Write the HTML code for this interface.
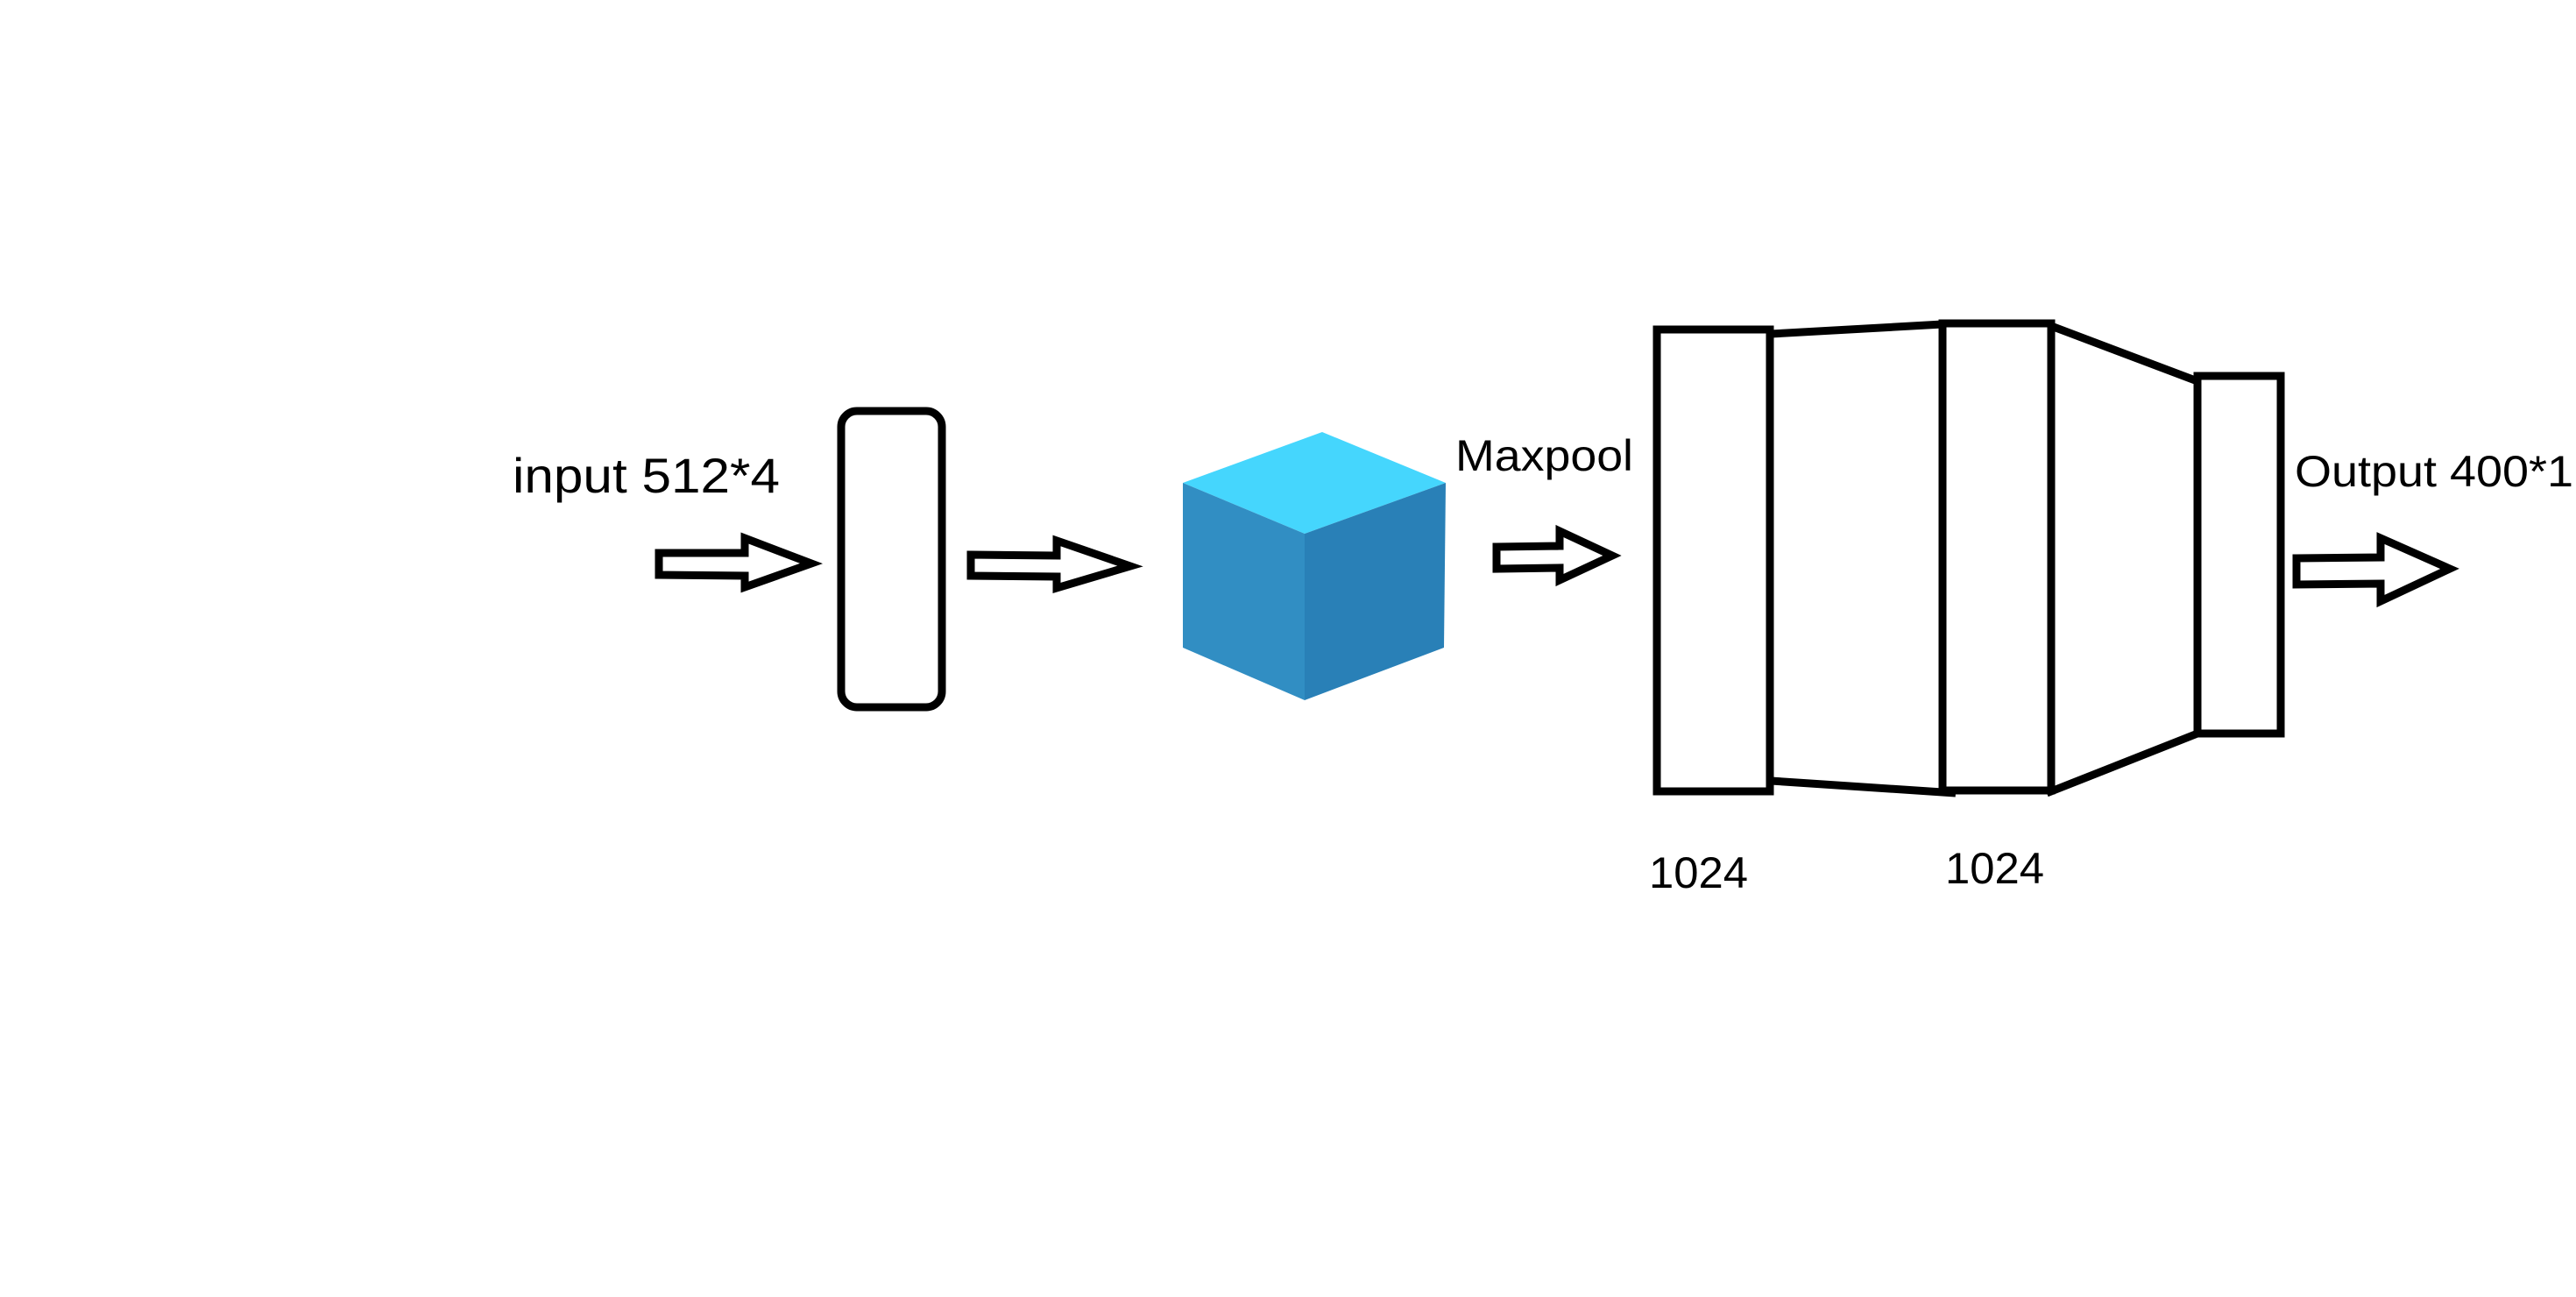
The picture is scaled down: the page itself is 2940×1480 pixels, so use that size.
<!DOCTYPE html>
<html><head><meta charset="utf-8"><style>
html,body{margin:0;padding:0;background:#fff;}
svg{display:block;}
text{font-family:"Liberation Sans",sans-serif;fill:#000;}
</style></head><body>
<svg width="2940" height="1480" viewBox="0 0 2940 1480" xmlns="http://www.w3.org/2000/svg">
<rect width="2940" height="1480" fill="#fff"/>
<text x="585" y="562" font-size="56" textLength="305" lengthAdjust="spacingAndGlyphs">input 512*4</text>
<text x="1661" y="537" font-size="50" textLength="203" lengthAdjust="spacingAndGlyphs">Maxpool</text>
<text x="1882" y="1013" font-size="50" textLength="113" lengthAdjust="spacingAndGlyphs">1024</text>
<text x="2220" y="1008" font-size="50" textLength="113" lengthAdjust="spacingAndGlyphs">1024</text>
<text x="2619" y="555" font-size="50" textLength="318" lengthAdjust="spacingAndGlyphs">Output 400*1</text>

<g fill="#fff" stroke="#000" stroke-width="9" stroke-linejoin="miter">
<polygon points="752,631 850,631 850,614 926,643 850,670 850,657 752,656"/>
<polygon points="1108,633 1206,634 1206,617 1290,646 1206,671 1206,658 1108,657"/>
<polygon points="1708,624 1780,623 1780,606 1840,634 1780,662 1780,648 1708,649"/>
<polygon points="2621,637 2717,636 2717,614 2796,649 2717,686 2717,666 2621,667"/>
</g>

<rect x="960" y="469" width="115" height="338" rx="18" fill="#fff" stroke="#000" stroke-width="9"/>

<polygon points="1509,493 1650,551 1489,609 1350,551" fill="#45D6FD"/>
<polygon points="1350,551 1489,609 1489,799 1350,739" fill="#318EC3"/>
<polygon points="1489,609 1650,551 1648,739 1489,799" fill="#2980B7"/>

<g fill="none" stroke="#000" stroke-width="9">
<rect x="1891" y="376" width="129" height="527"/>
<rect x="2217" y="369" width="124" height="533"/>
<rect x="2508" y="429" width="95" height="408"/>
<line x1="2021" y1="381" x2="2217" y2="370"/>
<line x1="2021" y1="891" x2="2232" y2="905"/>
<line x1="2341" y1="372" x2="2508" y2="435"/>
<line x1="2336" y1="905" x2="2508" y2="837"/>
</g>
</svg>
</body></html>
